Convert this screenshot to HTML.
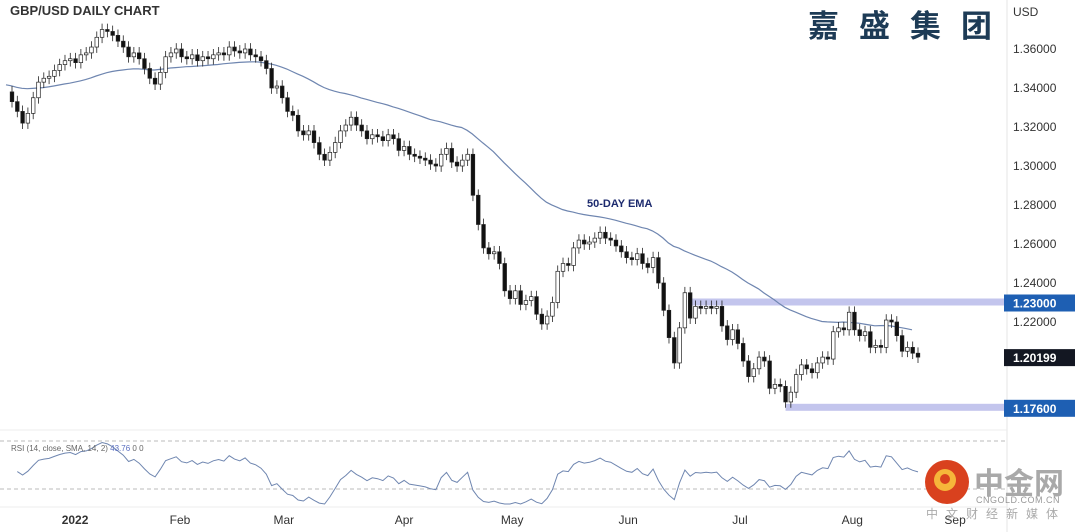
<!DOCTYPE html>
<html><head><meta charset="utf-8"><style>
body{margin:0;background:#fff;width:1080px;height:532px;overflow:hidden;font-family:"Liberation Sans","Noto Sans CJK SC",sans-serif}
svg{display:block}
</style></head><body>
<svg id="chart" width="1080" height="532" viewBox="0 0 1080 532">
<rect width="1080" height="532" fill="#fff"/>
<line x1="1007" y1="0" x2="1007" y2="532" stroke="#e6e6e6"/>
<line x1="0" y1="430" x2="1007" y2="430" stroke="#ececec"/>
<line x1="0" y1="507" x2="1007" y2="507" stroke="#ececec"/>
<text x="10" y="15" font-size="13" font-weight="bold" fill="#333">GBP/USD DAILY CHART</text>
<text x="808" y="37" font-size="31" font-weight="bold" fill="#1d3b56" letter-spacing="20" font-family="'Noto Sans CJK SC',sans-serif">嘉盛集团</text>
<text x="1013" y="16" font-size="12" fill="#333">USD</text>
<g id="yaxis"></g>
<g id="bands"></g>
<g id="ema"></g>
<g id="candles"></g>
<text x="587" y="207" font-size="11" font-weight="bold" fill="#1c2a6e">50-DAY EMA</text>
<line x1="0" y1="441" x2="1007" y2="441" stroke="#bbb" stroke-dasharray="4,3"/>
<line x1="0" y1="489" x2="1007" y2="489" stroke="#bbb" stroke-dasharray="4,3"/>
<g id="rsi"></g>
<text x="11" y="451" font-size="8" fill="#666">RSI (14, close, SMA, 14, 2) <tspan fill="#5a6fc0">43.76</tspan> 0 0</text>
<g id="xaxis"></g>
<g>
<circle cx="947" cy="482" r="22" fill="#d9411e"/>
<circle cx="945" cy="480" r="11" fill="#f6b63a"/>
<circle cx="945" cy="479" r="5" fill="#d9411e"/>
<text x="974" y="494" font-size="30" font-weight="bold" fill="#a9a9a9" font-family="'Noto Sans CJK SC',sans-serif">中金网</text>
<text x="976" y="503" font-size="9" fill="#999" letter-spacing="0.5">CNGOLD.COM.CN</text>
<text x="926" y="518" font-size="12" fill="#aaa" letter-spacing="8" font-family="'Noto Sans CJK SC',sans-serif">中文财经新媒体</text>
</g>
</svg>
<script>
const closes=[1.333,1.328,1.322,1.327,1.335,1.343,1.345,1.346,1.349,1.352,1.354,1.355,1.353,1.357,1.358,1.361,1.366,1.370,1.369,1.367,1.364,1.361,1.356,1.358,1.355,1.350,1.345,1.342,1.348,1.356,
1.358,1.360,1.356,1.355,1.357,1.354,1.356,1.355,1.357,1.358,1.357,1.361,1.359,1.358,1.360,1.357,1.356,1.354,1.350,1.340,
1.341,1.335,1.328,1.326,1.318,1.316,1.318,1.312,1.306,1.303,1.307,1.312,1.318,1.321,1.325,1.321,1.318,1.314,1.316,1.315,1.313,1.316,1.314,
1.308,1.310,1.306,1.305,1.304,1.303,1.301,1.300,1.306,1.309,1.302,1.300,1.303,1.306,1.285,1.270,1.258,1.255,1.256,1.250,
1.236,1.232,1.236,1.229,1.231,1.233,1.224,1.219,1.223,1.230,1.246,1.250,1.249,1.258,1.262,1.260,1.261,1.263,1.266,1.263,1.262,1.259,
1.256,1.253,1.252,1.255,1.250,1.248,1.253,1.240,1.226,1.212,1.199,1.217,1.235,1.222,1.228,1.227,1.228,1.227,1.228,1.218,1.211,1.216,
1.209,1.200,1.192,1.196,1.202,1.200,1.186,1.188,1.187,1.179,1.184,1.193,1.198,1.196,1.194,1.199,1.202,1.201,1.215,1.217,1.216,
1.225,1.216,1.213,1.215,1.207,1.208,1.207,1.221,1.220,1.213,1.205,1.207,1.204,1.20199];
const firstOpen=1.338;
const emaStart=1.342;
const rsiSeedGain=0.0032;
const rsiSeedLoss=0.0036;
const priceTicks=[1.36,1.34,1.32,1.30,1.28,1.26,1.24,1.22];
const levels=[1.23,1.176];
const lastPrice=1.20199;
const months=["2022","Feb","Mar","Apr","May","Jun","Jul","Aug","Sep"];
const monthStartIdx=[11.9,31.7,51.3,74,94.4,116.3,137.4,158.6,178];

const NS="http://www.w3.org/2000/svg";
const py=v=>49+(1.36-v)*1950;
const px=i=>12+i*(906/(closes.length-1));
function mk(tag,attrs,parent){const e=document.createElementNS(NS,tag);for(const k in attrs)e.setAttribute(k,attrs[k]);parent.appendChild(e);return e;}

const yg=document.getElementById('yaxis');
priceTicks.forEach(v=>{const t=mk('text',{x:1013,y:py(v)+4,'font-size':12,fill:'#333'},yg);t.textContent=v.toFixed(5);

});

const bg=document.getElementById('bands');
const levelStart=[128,146];
levels.forEach((v,k)=>{const r=mk('rect',{x:px(levelStart[k]),y:py(v)-4,width:1004-px(levelStart[k]),height:7,fill:'#b8bbea',opacity:0.85},bg);


const b=mk('rect',{x:1004,y:py(v)-8,width:71,height:17,fill:'#1e5fb3'},bg);


const t=mk('text',{x:1013,y:py(v)+5,'font-size':12,fill:'#fff','font-weight':'bold'},bg);t.textContent=v.toFixed(5);

});
const lb=mk('rect',{x:1004,y:py(lastPrice)-8,width:71,height:17,fill:'#131722'},bg);


const lt=mk('text',{x:1013,y:py(lastPrice)+5,'font-size':12,fill:'#fff','font-weight':'bold'},bg);lt.textContent=lastPrice.toFixed(5);



// EMA 50
const a=2/51;let e=emaStart;const ema=[];closes.forEach(c=>{e=e+a*(c-e);ema.push(e);});
const ep=mk('path',{d:ema.map((v,i)=>(i?'L':'M')+(px(i)-6).toFixed(1)+','+py(v).toFixed(1)).join(''),fill:'none',stroke:'#6f86b0','stroke-width':1.2},document.getElementById('ema'));



// candles
const cg=document.getElementById('candles');
closes.forEach((c,i)=>{const o=i?closes[i-1]:firstOpen;const up=c>=o;const x=px(i);
const hi=Math.max(o,c)+0.003,lo=Math.min(o,c)-0.003;
const w=mk('line',{x1:x,x2:x,y1:py(hi),y2:py(lo),stroke:'#222','stroke-width':0.8},cg);


const top=py(Math.max(o,c)),h=Math.max(1,py(Math.min(o,c))-top);
const r=mk('rect',{x:x-1.8,y:top,width:3.6,height:h,fill:up?'#fff':'#111',stroke:'#222','stroke-width':0.7},cg);

});

// RSI 14 (Wilder), seeded
const rsi=[];let ag=rsiSeedGain,al=rsiSeedLoss;
for(let i=1;i<closes.length;i++){const d=closes[i]-closes[i-1];const g=Math.max(d,0),l=Math.max(-d,0);
ag=(ag*13+g)/14;al=(al*13+l)/14;
rsi.push(al===0?100:100-100/(1+ag/al));}
const ry=v=>489-(v-30)*(48/40);
const rp=mk('path',{d:rsi.map((v,i)=>(i?'L':'M')+px(i+1).toFixed(1)+','+Math.max(436,Math.min(504,ry(v))).toFixed(1)).join(''),fill:'none',stroke:'#6f86b0','stroke-width':1},document.getElementById('rsi'));



const xg=document.getElementById('xaxis');
months.forEach((m,k)=>{const t=mk('text',{x:px(monthStartIdx[k]),y:524,'font-size':12,fill:'#333','text-anchor':'middle','font-weight':k===0?'bold':'normal'},xg);t.textContent=m;

});
</script>
</body></html>
